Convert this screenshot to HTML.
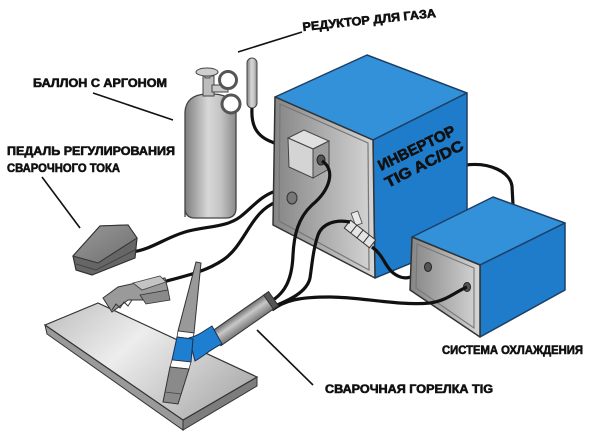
<!DOCTYPE html>
<html><head><meta charset="utf-8">
<style>
html,body{margin:0;padding:0;background:#fff;}
svg{display:block;}
text{font-family:"Liberation Sans","DejaVu Sans",sans-serif;font-weight:bold;fill:#111;stroke:#111;stroke-width:0.6;}
</style></head>
<body>
<svg width="600" height="439" viewBox="0 0 600 439" xmlns="http://www.w3.org/2000/svg">
<defs>
<linearGradient id="cyl" x1="0" x2="1" y1="0" y2="0">
<stop offset="0" stop-color="#7e7e7e"/><stop offset="0.45" stop-color="#d8d8d8"/><stop offset="0.7" stop-color="#c4c4c4"/><stop offset="1" stop-color="#8a8a8a"/>
</linearGradient>
<linearGradient id="greyface" x1="0" x2="1" y1="0" y2="0">
<stop offset="0" stop-color="#858585"/><stop offset="0.6" stop-color="#b5b5b5"/><stop offset="1" stop-color="#d6d6d6"/>
</linearGradient>
<linearGradient id="plate" x1="0" x2="1" y1="0" y2="0.6">
<stop offset="0" stop-color="#bdbdbd"/><stop offset="0.45" stop-color="#ededed"/><stop offset="1" stop-color="#b2b2b2"/>
</linearGradient>
<linearGradient id="handle" x1="0" x2="0" y1="0" y2="1">
<stop offset="0" stop-color="#6e6e6e"/><stop offset="0.4" stop-color="#c8c8c8"/><stop offset="1" stop-color="#777"/>
</linearGradient>
<linearGradient id="pedal" x1="0" x2="1" y1="0" y2="1">
<stop offset="0" stop-color="#9a9a9a"/><stop offset="1" stop-color="#6e6e6e"/>
</linearGradient>
</defs>

<!-- leader lines -->
<g stroke="#111" stroke-width="1.6" fill="none">
<line x1="238" y1="52" x2="302" y2="32"/>
<line x1="93" y1="93" x2="173" y2="120"/>
<line x1="42" y1="177" x2="80" y2="228"/>
<line x1="257" y1="330" x2="313" y2="385"/>
</g>

<!-- labels -->
<text x="303" y="31" font-size="12" font-weight="bold" textLength="134" lengthAdjust="spacingAndGlyphs" transform="rotate(-6 303 31)">РЕДУКТОР ДЛЯ ГАЗА</text>
<text x="33" y="87" font-size="12" font-weight="bold" textLength="134" lengthAdjust="spacingAndGlyphs">БАЛЛОН С АРГОНОМ</text>
<text x="7" y="155" font-size="12" font-weight="bold" textLength="168" lengthAdjust="spacingAndGlyphs">ПЕДАЛЬ РЕГУЛИРОВАНИЯ</text>
<text x="7" y="172" font-size="12" font-weight="bold" textLength="113" lengthAdjust="spacingAndGlyphs">СВАРОЧНОГО ТОКА</text>
<text x="325" y="393" font-size="12" font-weight="bold" textLength="168" lengthAdjust="spacingAndGlyphs">СВАРОЧНАЯ ГОРЕЛКА TIG</text>
<text x="442" y="354" font-size="12" font-weight="bold" textLength="141" lengthAdjust="spacingAndGlyphs">СИСТЕМА ОХЛАЖДЕНИЯ</text>

<!-- cable from main box to cooler top (behind cooler) -->
<path d="M466,165 C490,162 510,172 512,186 L513,205" stroke="#111" stroke-width="3.2" fill="none"/>

<!-- Gas cylinder -->
<path d="M185,217 L185,112 Q186,95 206,94 L214,94 Q234,95 236,112 L236,208 Q236,218 226,218 L195,218 Q185,218 185,208 Z" fill="url(#cyl)" stroke="#444" stroke-width="1.3"/>
<rect x="203" y="76" width="11" height="20" fill="#bdbdbd" stroke="#444" stroke-width="1"/>
<rect x="212" y="85" width="16" height="7" fill="#c9c9c9" stroke="#444" stroke-width="1"/>
<rect x="205" y="72" width="5" height="6" fill="#aaa" stroke="#444" stroke-width="0.8"/>
<ellipse cx="207" cy="72" rx="11" ry="4" fill="#cfcfcf" stroke="#444" stroke-width="1"/>
<circle cx="228" cy="80" r="8.5" fill="#fff" stroke="#555" stroke-width="3"/>
<circle cx="231" cy="104" r="9" fill="#fff" stroke="#555" stroke-width="3"/>
<rect x="247" y="58" width="10" height="50" rx="5" fill="url(#cyl)" stroke="#444" stroke-width="1"/>

<!-- gas hose -->
<path d="M252,108 C251,125 256,136 272,142 L292,152" stroke="#111" stroke-width="3.2" fill="none"/>

<!-- pedal cable & clamp cable -->
<path d="M132,252 C150,250 165,238 185,232 C205,226 225,228 240,217 C252,208 260,196 276,191" stroke="#111" stroke-width="3.2" fill="none"/>
<path d="M163,282 C185,276 205,272 223,260 C238,250 245,232 256,218 C265,206 278,199 292,198" stroke="#111" stroke-width="3.2" fill="none"/>

<!-- Main inverter box -->
<polygon points="275,97 367,55 467,93 373,140" fill="#3391d9" stroke="#1d3f66" stroke-width="1.5" stroke-linejoin="round"/>
<polygon points="373,140 467,93 467,240 375,278" fill="#1f7cca" stroke="#1d3f66" stroke-width="1.5" stroke-linejoin="round"/>
<polygon points="275,97 373,140 375,278 273,225" fill="url(#greyface)" stroke="#333" stroke-width="1.5" stroke-linejoin="round"/>
<polygon points="280,104 368,143 369,270 279,221" fill="none" stroke="#777" stroke-width="1.2"/>

<!-- small box on face -->
<polygon points="288,138 304,130 329,141 313,149" fill="#e0e0e0" stroke="#444" stroke-width="1"/>
<polygon points="288,138 313,149 313,178 289,167" fill="#d4d4d4" stroke="#444" stroke-width="1"/>
<polygon points="313,149 329,141 329,169 313,178" fill="#9c9c9c" stroke="#444" stroke-width="1"/>
<ellipse cx="321" cy="160" rx="4" ry="5" fill="#555" stroke="#222" stroke-width="1"/>
<!-- hole -->
<ellipse cx="292" cy="198" rx="5" ry="6" fill="#777" stroke="#333" stroke-width="1"/>

<!-- connector -->
<rect x="353" y="212" width="7" height="13" fill="#e8e8e8" stroke="#444" stroke-width="0.8" transform="rotate(-20 356 218)"/>
<g transform="rotate(38 360 234)">
<rect x="344" y="229" width="32" height="10" fill="#e4e4e4" stroke="#333" stroke-width="1"/>
<line x1="352" y1="229" x2="352" y2="239" stroke="#333"/>
<line x1="360" y1="229" x2="360" y2="239" stroke="#333"/>
<line x1="368" y1="229" x2="368" y2="239" stroke="#333"/>
</g>

<!-- cables from box to torch -->
<path d="M322,161 C336,170 330,190 312,205 C298,218 294,235 293,255 C292,280 285,295 266,304" stroke="#111" stroke-width="3.2" fill="none"/>
<path d="M350,222 C335,219 322,224 318,235 C313,250 312,265 310,278 C307,292 290,300 270,308" stroke="#111" stroke-width="3.2" fill="none"/>
<path d="M372,247 C385,256 385,270 398,276 C410,282 418,272 428,268" stroke="#111" stroke-width="3.2" fill="none"/>

<!-- Cooler -->
<polygon points="412,237 493,197 565,223 480,265" fill="#3391d9" stroke="#1d3f66" stroke-width="1.5" stroke-linejoin="round"/>
<polygon points="480,265 565,223 565,290 480,337" fill="#1f7cca" stroke="#1d3f66" stroke-width="1.5" stroke-linejoin="round"/>
<polygon points="412,237 480,265 480,337 410,290" fill="url(#greyface)" stroke="#333" stroke-width="1.5" stroke-linejoin="round"/>
<polygon points="417,244 474,268 474,328 416,288" fill="none" stroke="#777" stroke-width="1.1"/>
<ellipse cx="428" cy="267" rx="3.5" ry="4.5" fill="#555" stroke="#222" stroke-width="1"/>
<ellipse cx="467" cy="287" rx="3.5" ry="4.5" fill="#555" stroke="#222" stroke-width="1"/>

<!-- cable torch -> cooler lower port -->
<path d="M272,310 C285,300 300,297 330,297 C360,297 400,306 430,303 C446,301 455,292 467,287" stroke="#111" stroke-width="3.2" fill="none"/>

<!-- Pedal -->
<polygon points="73,256 100,226 128,225 137,238 135,258 92,275 76,270" fill="#666" stroke="#333" stroke-width="1.2"/>
<polygon points="73,256 100,226 128,225 137,238 98,263" fill="url(#pedal)" stroke="#333" stroke-width="1"/>
<polyline points="76,264 96,270 135,250" fill="none" stroke="#444" stroke-width="1"/>

<!-- Plate -->
<polygon points="45,325 183,420 183,430 47,334" fill="#9a9a9a" stroke="#333" stroke-width="1"/>
<polygon points="183,420 257,377 257,386 183,430" fill="#7d7d7d" stroke="#333" stroke-width="1"/>
<polygon points="45,325 98,303 257,377 183,420" fill="url(#plate)" stroke="#333" stroke-width="1.2"/>

<!-- Clamp -->
<polygon points="103,298 118,287 140,282 165,278 168,290 150,300 128,300 112,312" fill="#9a9a9a" stroke="#333" stroke-width="1"/>
<polygon points="133,283 160,276 166,282 142,290" fill="#c4c4c4" stroke="#444" stroke-width="0.8"/>
<polyline points="112,310 116,304 120,308 124,302 128,306 132,300" fill="none" stroke="#333" stroke-width="1"/>
<polygon points="140,295 168,290 170,300 146,304" fill="#8a8a8a" stroke="#333" stroke-width="0.8"/>

<!-- Torch -->
<polygon points="196,262 201,263 194,333 178,331" fill="#999" stroke="#333" stroke-width="1"/>
<polygon points="178,331 194,333 193,339 177,337" fill="#fff" stroke="#333" stroke-width="0.8"/>
<g transform="rotate(-35 242 320)">
<rect x="210" y="312" width="70" height="17" fill="url(#handle)" stroke="#333" stroke-width="1"/>
<rect x="274" y="312" width="6" height="17" fill="#555" stroke="#333" stroke-width="1"/>
</g>
<path d="M189,338 C198,336 205,330 212,326 L222,344 C212,348 204,356 195,361 Z" fill="#1e7fd0" stroke="#1a3050" stroke-width="1"/>
<polygon points="177,337 193,339 191,362 172,360" fill="#1e7fd0" stroke="#1a3050" stroke-width="1"/>
<polygon points="172,360 191,362 189,369 170,367" fill="#fff" stroke="#333" stroke-width="0.8"/>
<polygon points="170,367 189,369 178,404 163,402" fill="#8a8a8a" stroke="#333" stroke-width="1"/>
<line x1="165" y1="392" x2="181" y2="394" stroke="#444" stroke-width="0.8"/>

<!-- Inverter label -->
<text x="381" y="171" font-size="15" font-weight="bold" textLength="84" lengthAdjust="spacingAndGlyphs" transform="rotate(-26 381 171)">ИНВЕРТОР</text>
<text x="388" y="188" font-size="15" font-weight="bold" textLength="86" lengthAdjust="spacingAndGlyphs" transform="rotate(-27 388 188)">TIG AC/DC</text>
</svg>
</body></html>
